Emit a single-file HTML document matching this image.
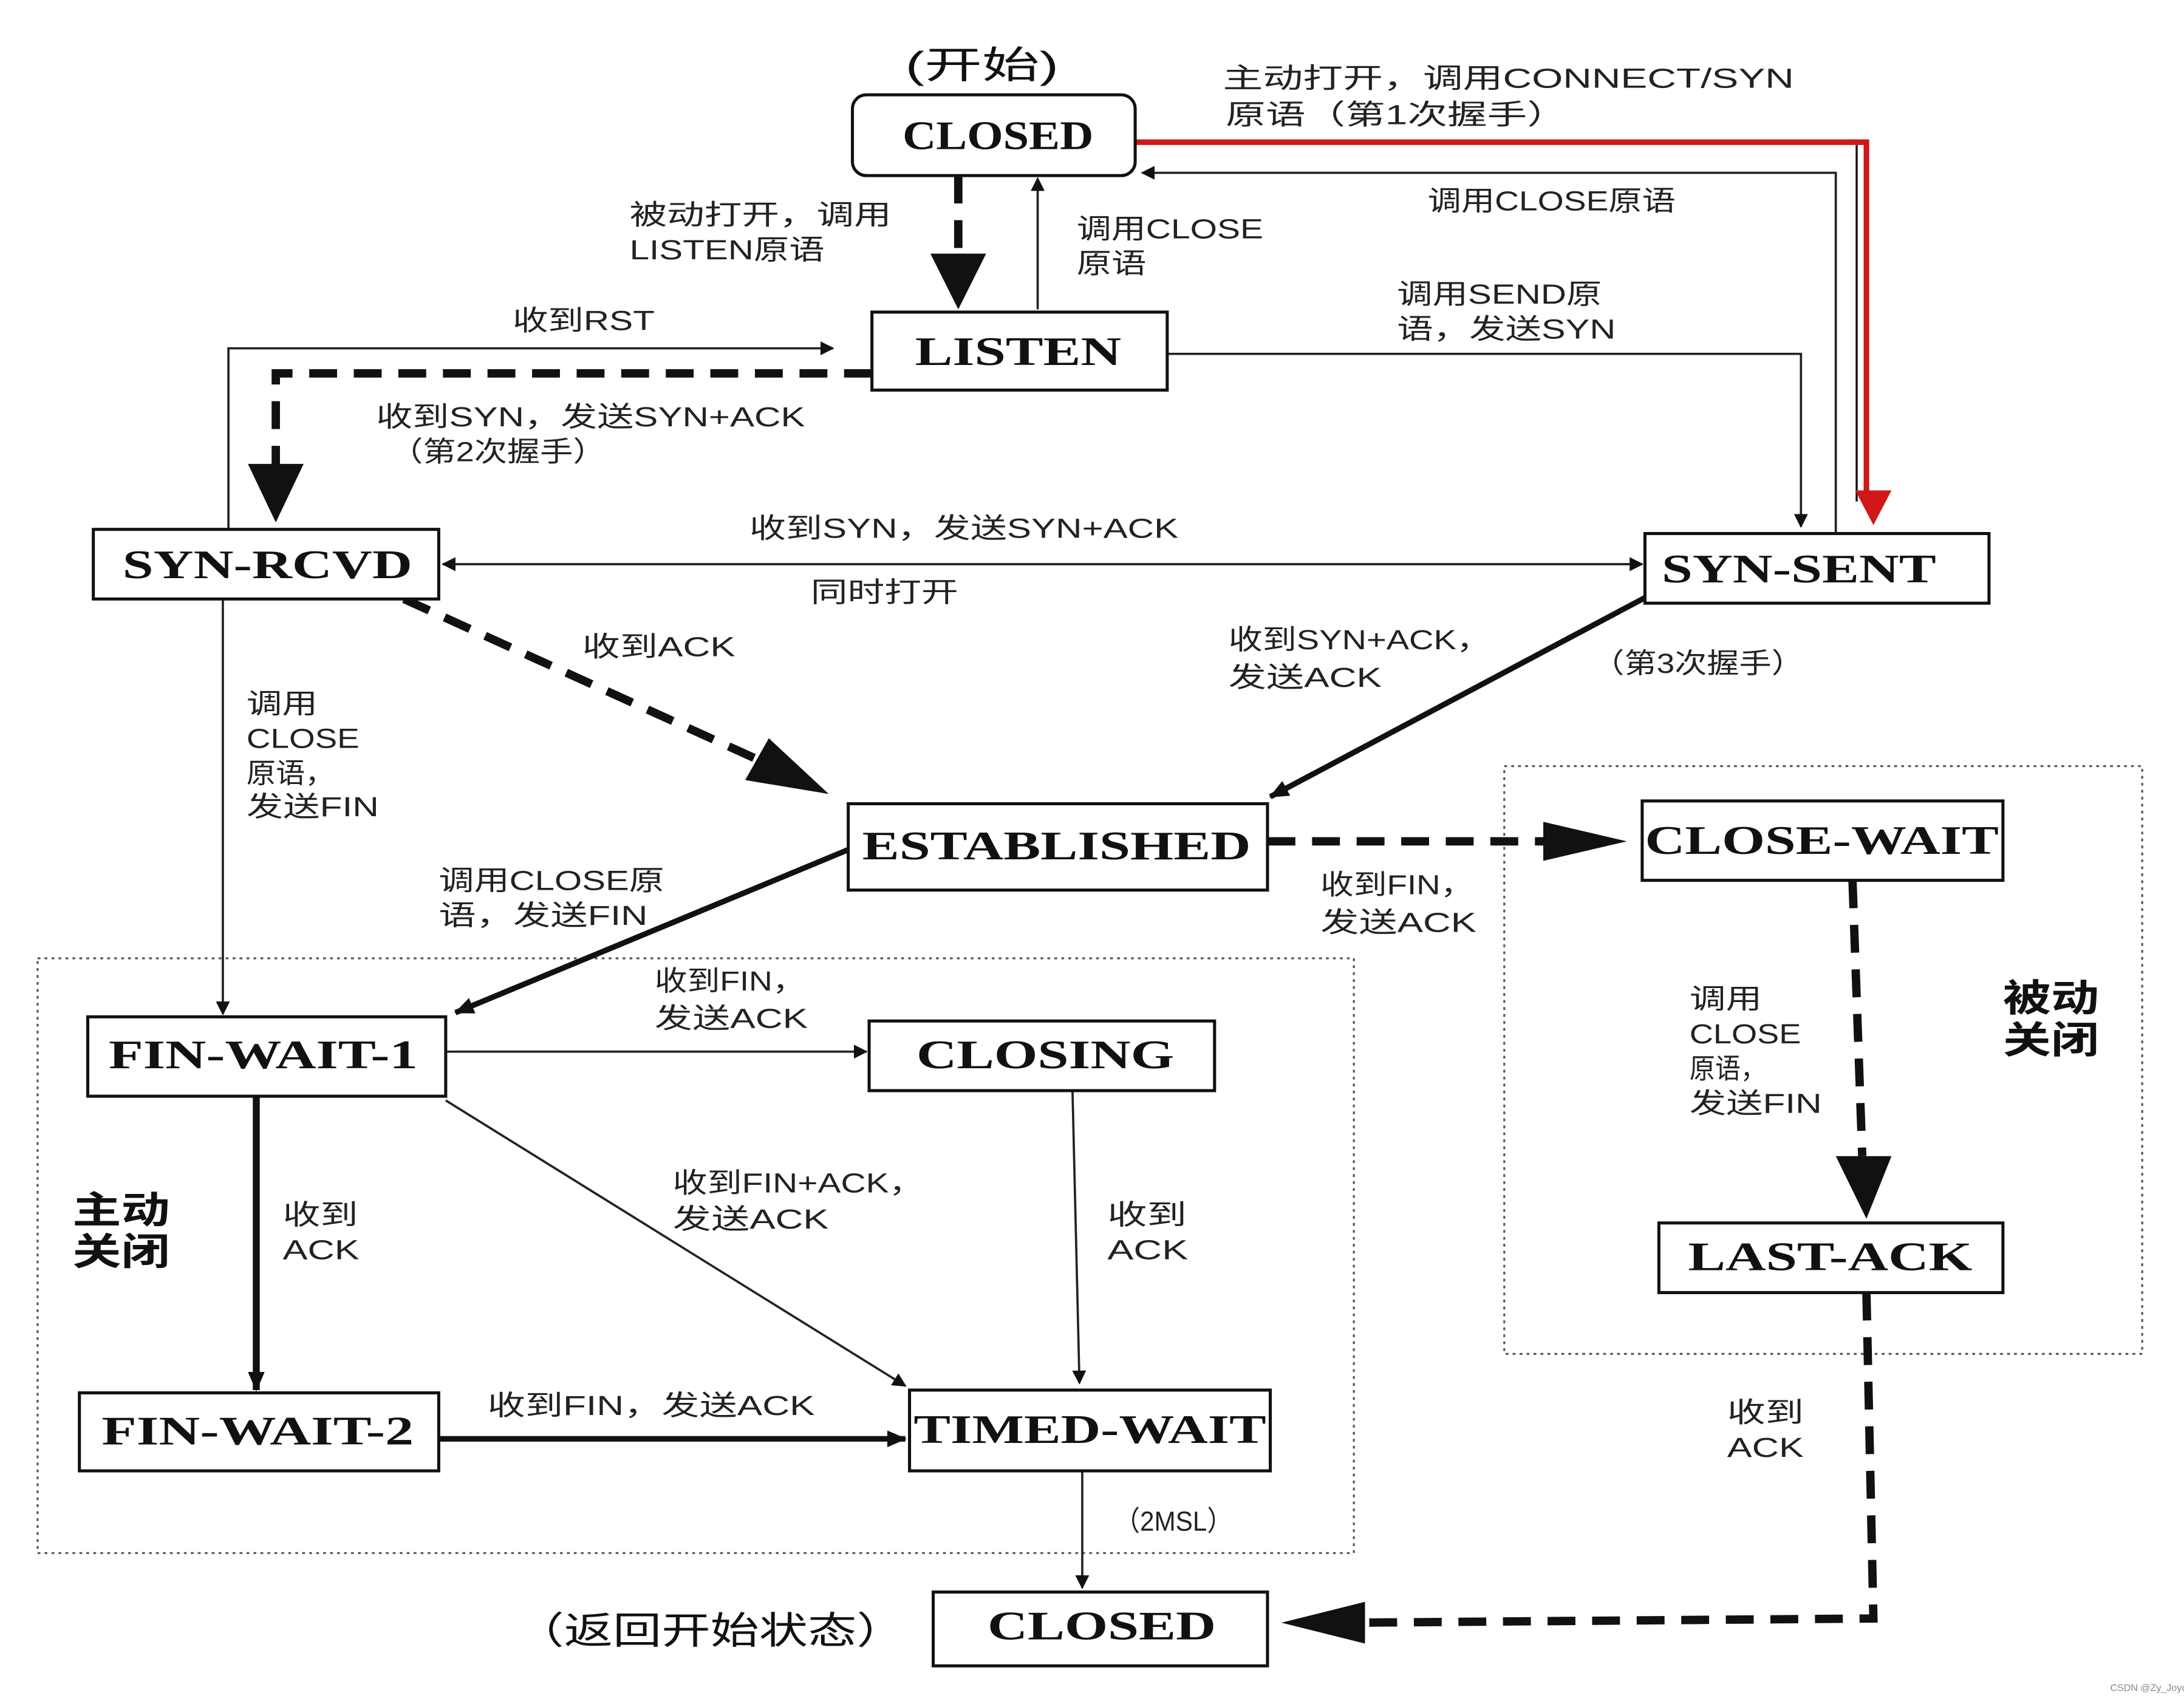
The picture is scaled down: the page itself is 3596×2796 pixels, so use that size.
<!DOCTYPE html>
<html><head><meta charset="utf-8">
<style>
html,body{margin:0;padding:0;background:#fff;}
svg{display:block;}
.box{fill:#fff;stroke:#111;stroke-width:2.2;}
.bt{font-family:"Liberation Serif",serif;font-weight:bold;font-size:29px;fill:#111;}
.lb{font-family:"Liberation Sans","Noto Sans CJK SC",sans-serif;font-size:20px;fill:#222;}
.big{font-family:"Liberation Sans","Noto Sans CJK SC",sans-serif;font-size:27px;fill:#111;font-weight:bold;}
.thin{stroke:#222;stroke-width:1.6;fill:none;}
.dash{stroke:#111;stroke-width:6;fill:none;stroke-dasharray:20 12;}
.dot{stroke:#555;stroke-width:1.4;fill:none;stroke-dasharray:2 3;}
</style></head><body>
<svg width="3596" height="2796" viewBox="0 0 1568 1219" xmlns="http://www.w3.org/2000/svg">
<defs>
<marker id="a" markerWidth="10" markerHeight="10" refX="9" refY="5" orient="auto" markerUnits="userSpaceOnUse"><path d="M0,0 L10,5 L0,10 z" fill="#111"/></marker>
<marker id="b" markerWidth="14" markerHeight="12" refX="13" refY="6" orient="auto" markerUnits="userSpaceOnUse"><path d="M0,0 L14,6 L0,12 z" fill="#111"/></marker>
<marker id="as" markerWidth="10" markerHeight="10" refX="1" refY="5" orient="auto" markerUnits="userSpaceOnUse"><path d="M10,0 L0,5 L10,10 z" fill="#111"/></marker>
</defs>

<rect class="dot" x="27" y="688" width="945" height="427"/>
<rect class="dot" x="1080" y="550" width="458" height="422"/>

<path d="M815,102 L1340,102 L1340,360" stroke="#d01818" stroke-width="4" fill="none"/>
<path d="M1333,104 L1333,360" stroke="#111" stroke-width="1.5" fill="none"/>
<path d="M1332,352 L1358,352 L1345,377 z" fill="#d01818"/>
<path class="thin" d="M1318,383 L1318,124 L820,124" marker-end="url(#a)"/>
<path class="dash" d="M688,126 L688,190"/>
<path d="M668,182 L708,182 L688,222 z" fill="#111"/>
<path class="thin" d="M745,222 L745,128" marker-end="url(#a)"/>
<path class="thin" d="M838,254 L1293,254 L1293,378" marker-end="url(#a)"/>
<path class="thin" d="M164,380 L164,250 L598,250" marker-end="url(#a)"/>
<path class="dash" d="M626,268 L198,268 L198,340"/>
<path d="M178,333 L218,333 L198,375 z" fill="#111"/>
<path class="thin" d="M318,405 L1179,405" marker-end="url(#a)" marker-start="url(#as)"/>
<path class="dash" d="M290,430 L550,548"/>
<path d="M535,560 L552,530 L595,570 z" fill="#111"/>
<path class="thin" d="M160,430 L160,728" marker-end="url(#a)"/>
<path d="M1183,428 L912,572" stroke="#111" stroke-width="4" fill="none" marker-end="url(#b)"/>
<path class="dash" d="M910,604 L1110,604"/>
<path d="M1108,590 L1168,604 L1108,618 z" fill="#111"/>
<path d="M609,610 L327,727" stroke="#111" stroke-width="4" fill="none" marker-end="url(#b)"/>
<path class="thin" d="M320,755 L622,755" marker-end="url(#a)"/>
<path class="thin" d="M320,790 L650,995" marker-end="url(#a)"/>
<path class="thin" d="M770,783 L775,993" marker-end="url(#a)"/>
<path d="M184,787 L184,998" stroke="#111" stroke-width="5" fill="none" marker-end="url(#b)"/>
<path d="M315,1033 L650,1033" stroke="#111" stroke-width="4" fill="none" marker-end="url(#b)"/>
<path class="thin" d="M777,1056 L777,1140" marker-end="url(#a)"/>
<path class="dash" d="M1330,632 L1337,830"/>
<path d="M1318,830 L1358,830 L1340,875 z" fill="#111"/>
<path class="dash" d="M1340,928 L1345,1162 L975,1165"/>
<path d="M980,1150 L920,1165 L980,1180 z" fill="#111"/>

<rect class="box" x="612" y="68" width="203" height="58" rx="10"/>
<text class="bt" x="648" y="107" textLength="137" lengthAdjust="spacingAndGlyphs">CLOSED</text>
<rect class="box" x="626" y="224" width="212" height="56"/>
<text class="bt" x="657" y="262" textLength="148" lengthAdjust="spacingAndGlyphs">LISTEN</text>
<rect class="box" x="67" y="380" width="248" height="50"/>
<text class="bt" x="88" y="415" textLength="208" lengthAdjust="spacingAndGlyphs">SYN-RCVD</text>
<rect class="box" x="1181" y="383" width="247" height="50"/>
<text class="bt" x="1193" y="418" textLength="197" lengthAdjust="spacingAndGlyphs">SYN-SENT</text>
<rect class="box" x="609" y="577" width="301" height="62"/>
<text class="bt" x="619" y="617" textLength="279" lengthAdjust="spacingAndGlyphs">ESTABLISHED</text>
<rect class="box" x="1179" y="575" width="259" height="57"/>
<text class="bt" x="1181" y="613" textLength="254" lengthAdjust="spacingAndGlyphs">CLOSE-WAIT</text>
<rect class="box" x="63" y="730" width="257" height="57"/>
<text class="bt" x="78" y="767" textLength="222" lengthAdjust="spacingAndGlyphs">FIN-WAIT-1</text>
<rect class="box" x="624" y="733" width="248" height="50"/>
<text class="bt" x="658" y="767" textLength="185" lengthAdjust="spacingAndGlyphs">CLOSING</text>
<rect class="box" x="57" y="1000" width="258" height="56"/>
<text class="bt" x="73" y="1037" textLength="224" lengthAdjust="spacingAndGlyphs">FIN-WAIT-2</text>
<rect class="box" x="653" y="998" width="259" height="58"/>
<text class="bt" x="656" y="1036" textLength="253" lengthAdjust="spacingAndGlyphs">TIMED-WAIT</text>
<rect class="box" x="670" y="1143" width="240" height="53"/>
<text class="bt" x="709" y="1177" textLength="164" lengthAdjust="spacingAndGlyphs">CLOSED</text>
<rect class="box" x="1191" y="878" width="247" height="50"/>
<text class="bt" x="1212" y="912" textLength="204" lengthAdjust="spacingAndGlyphs">LAST-ACK</text>

<text class="big" x="650" y="56" style="font-weight:normal" textLength="110" lengthAdjust="spacingAndGlyphs">(开始)</text>
<text class="lb" x="878" y="63" textLength="410" lengthAdjust="spacingAndGlyphs">主动打开，调用CONNECT/SYN</text>
<text class="lb" x="880" y="89" textLength="245" lengthAdjust="spacingAndGlyphs">原语（第1次握手）</text>
<text class="lb" x="1025" y="151" textLength="178" lengthAdjust="spacingAndGlyphs">调用CLOSE原语</text>
<text class="lb" x="452" y="161" textLength="188" lengthAdjust="spacingAndGlyphs">被动打开，调用</text>
<text class="lb" x="452" y="186" textLength="140" lengthAdjust="spacingAndGlyphs">LISTEN原语</text>
<text class="lb" x="773" y="171" textLength="134" lengthAdjust="spacingAndGlyphs">调用CLOSE</text>
<text class="lb" x="773" y="196" textLength="50" lengthAdjust="spacingAndGlyphs">原语</text>
<text class="lb" x="1003" y="218" textLength="147" lengthAdjust="spacingAndGlyphs">调用SEND原</text>
<text class="lb" x="1003" y="243" textLength="157" lengthAdjust="spacingAndGlyphs">语，发送SYN</text>
<text class="lb" x="368" y="237" textLength="102" lengthAdjust="spacingAndGlyphs">收到RST</text>
<text class="lb" x="270" y="306" textLength="308" lengthAdjust="spacingAndGlyphs">收到SYN，发送SYN+ACK</text>
<text class="lb" x="280" y="331" textLength="155" lengthAdjust="spacingAndGlyphs">（第2次握手）</text>
<text class="lb" x="538" y="386" textLength="308" lengthAdjust="spacingAndGlyphs">收到SYN，发送SYN+ACK</text>
<text class="lb" x="582" y="432" textLength="106" lengthAdjust="spacingAndGlyphs">同时打开</text>
<text class="lb" x="418" y="471" textLength="110" lengthAdjust="spacingAndGlyphs">收到ACK</text>
<text class="lb" x="177" y="512" textLength="51" lengthAdjust="spacingAndGlyphs">调用</text>
<text class="lb" x="177" y="537" textLength="81" lengthAdjust="spacingAndGlyphs">CLOSE</text>
<text class="lb" x="177" y="562" textLength="63" lengthAdjust="spacingAndGlyphs">原语，</text>
<text class="lb" x="177" y="586" textLength="95" lengthAdjust="spacingAndGlyphs">发送FIN</text>
<text class="lb" x="882" y="466" textLength="188" lengthAdjust="spacingAndGlyphs">收到SYN+ACK，</text>
<text class="lb" x="882" y="493" textLength="110" lengthAdjust="spacingAndGlyphs">发送ACK</text>
<text class="lb" x="1143" y="483" textLength="152" lengthAdjust="spacingAndGlyphs">（第3次握手）</text>
<text class="lb" x="948" y="642" textLength="110" lengthAdjust="spacingAndGlyphs">收到FIN，</text>
<text class="lb" x="948" y="669" textLength="112" lengthAdjust="spacingAndGlyphs">发送ACK</text>
<text class="lb" x="315" y="639" textLength="162" lengthAdjust="spacingAndGlyphs">调用CLOSE原</text>
<text class="lb" x="315" y="664" textLength="150" lengthAdjust="spacingAndGlyphs">语，发送FIN</text>
<text class="lb" x="470" y="711" textLength="108" lengthAdjust="spacingAndGlyphs">收到FIN，</text>
<text class="lb" x="470" y="738" textLength="110" lengthAdjust="spacingAndGlyphs">发送ACK</text>
<text class="lb" x="483" y="856" textLength="180" lengthAdjust="spacingAndGlyphs">收到FIN+ACK，</text>
<text class="lb" x="483" y="882" textLength="112" lengthAdjust="spacingAndGlyphs">发送ACK</text>
<text class="lb" x="795" y="879" textLength="57" lengthAdjust="spacingAndGlyphs">收到</text>
<text class="lb" x="795" y="904" textLength="58" lengthAdjust="spacingAndGlyphs">ACK</text>
<text class="lb" x="203" y="879" textLength="54" lengthAdjust="spacingAndGlyphs">收到</text>
<text class="lb" x="203" y="904" textLength="55" lengthAdjust="spacingAndGlyphs">ACK</text>
<text class="big" x="52" y="878" textLength="70" lengthAdjust="spacingAndGlyphs">主动</text>
<text class="big" x="52" y="908" textLength="70" lengthAdjust="spacingAndGlyphs">关闭</text>
<text class="lb" x="350" y="1016" textLength="235" lengthAdjust="spacingAndGlyphs">收到FIN，发送ACK</text>
<text class="lb" x="800" y="1099" textLength="85" lengthAdjust="spacingAndGlyphs">（2MSL）</text>
<text class="big" x="370" y="1180" style="font-weight:normal" textLength="280" lengthAdjust="spacingAndGlyphs">（返回开始状态）</text>
<text class="lb" x="1213" y="724" textLength="52" lengthAdjust="spacingAndGlyphs">调用</text>
<text class="lb" x="1213" y="749" textLength="80" lengthAdjust="spacingAndGlyphs">CLOSE</text>
<text class="lb" x="1213" y="774" textLength="55" lengthAdjust="spacingAndGlyphs">原语，</text>
<text class="lb" x="1213" y="799" textLength="95" lengthAdjust="spacingAndGlyphs">发送FIN</text>
<text class="big" x="1438" y="726" textLength="69" lengthAdjust="spacingAndGlyphs">被动</text>
<text class="big" x="1438" y="756" textLength="69" lengthAdjust="spacingAndGlyphs">关闭</text>
<text class="lb" x="1240" y="1021" textLength="55" lengthAdjust="spacingAndGlyphs">收到</text>
<text class="lb" x="1240" y="1046" textLength="55" lengthAdjust="spacingAndGlyphs">ACK</text>
<text x="1515" y="1214" font-family="Liberation Sans,sans-serif" font-size="7" fill="#888">CSDN @Zy_Joyce</text>
</svg>
</body></html>
